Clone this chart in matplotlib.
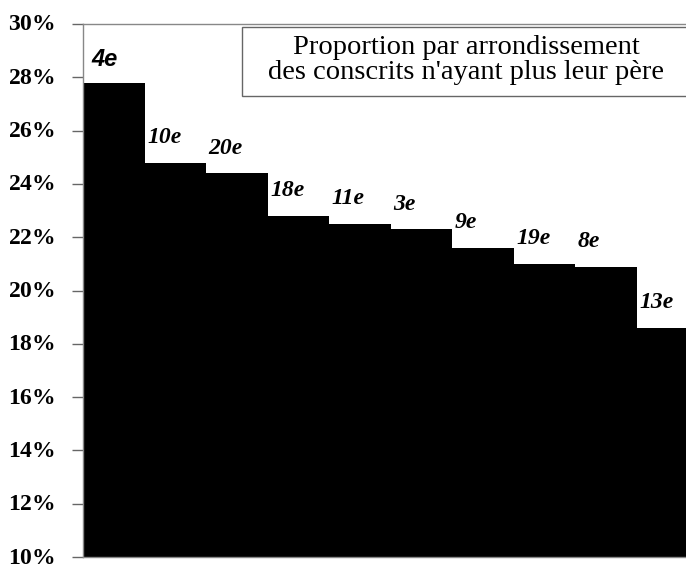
import matplotlib
matplotlib.use("Agg")
import matplotlib.pyplot as plt
from matplotlib.patches import Rectangle
from matplotlib.ticker import FuncFormatter
from matplotlib.transforms import ScaledTranslation

categories = ["4e", "10e", "20e", "18e", "11e", "3e", "9e", "19e", "8e", "13e"]
values = [27.8, 24.8, 24.4, 22.8, 22.5, 22.3, 21.6, 21.0, 20.9, 18.6]
yticks = [10, 12, 14, 16, 18, 20, 22, 24, 26, 28, 30]
legend_text = "Proportion par arrondissement\ndes conscrits n'ayant plus leur père"

plt.rcParams["mathtext.fontset"] = "custom"
plt.rcParams["mathtext.bf"] = "Liberation Serif:bold"
plt.rcParams["mathtext.it"] = "Liberation Serif:italic:bold"
plt.rcParams["mathtext.rm"] = "Liberation Serif:bold"

fig = plt.figure(figsize=(6.86, 5.65), dpi=100)
ax = fig.add_axes([83/686, 1-557/565, 615/686, 533/565])

x = list(range(len(values)))
ax.bar(x, values, width=1.0, color="black", align="edge",
       edgecolor="black", linewidth=0)
ax.set_xlim(0, len(values))
ax.set_ylim(10, 30)
ax.set_yticks(yticks)
ax.yaxis.set_major_formatter(FuncFormatter(lambda v, p: r"$\mathbf{%d}\mathit{\%%}$" % int(v)))
ax.set_xticks([])
ax.tick_params(axis="y", direction="out", length=8, width=1, color="#666666", pad=12)
shift = ScaledTranslation(0, 3/100, fig.dpi_scale_trans)
for lab in ax.get_yticklabels():
    lab.set_fontsize(17)
    lab.set_transform(lab.get_transform() + shift)
for s in ["left", "top", "bottom"]:
    ax.spines[s].set_color("#888888")
    ax.spines[s].set_linewidth(1)
ax.spines["right"].set_visible(False)

for i, (c, v) in enumerate(zip(categories, values)):
    if i == 0:
        fam = "Liberation Sans"
        off = (6, 12)
    else:
        fam = "Liberation Serif"
        off = (2, 14)
    ax.annotate(c, xy=(i, v), xytext=off, textcoords="offset points",
                ha="left", va="baseline", fontsize=17, fontweight="bold",
                fontstyle="italic", family=fam, color="black")

# legend box
fig.patches.append(Rectangle((242/686, 1-96/565), (700-242)/686, 69/565,
                             transform=fig.transFigure, fill=True,
                             facecolor="white", edgecolor="#666666", linewidth=1))
fig.text(466/686, 1-60/565, legend_text, ha="center", va="center",
         fontsize=20.5, family="Liberation Serif", linespacing=1.0)

fig.savefig("out.png", dpi=100)
